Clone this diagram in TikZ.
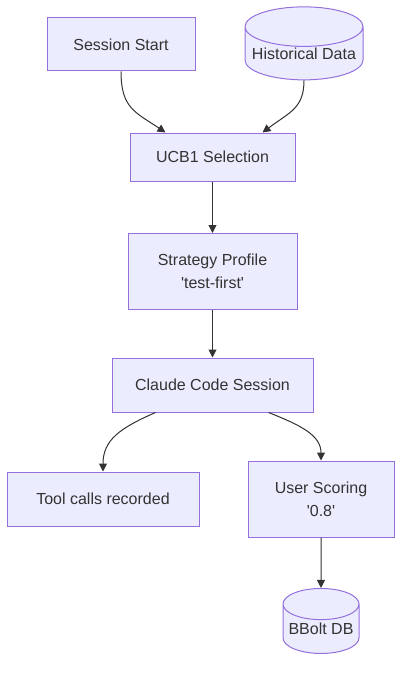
\documentclass[tikz,border=0pt]{standalone}
\usepackage{fontspec}
\setmainfont{Liberation Sans}
\usetikzlibrary{shapes.geometric,arrows.meta}
\definecolor{mmfill}{HTML}{ECECFF}
\definecolor{mmline}{HTML}{9370DB}
\definecolor{mmedge}{HTML}{333333}

\tikzset{
  box/.style={draw=mmline, fill=mmfill, line width=1pt, align=center,
    text=mmedge, inner sep=0pt, font=\fontsize{16}{23}\selectfont},
  store/.style={box, cylinder, shape border rotate=90, shape aspect=#1},
  flow/.style={draw=mmedge, line width=1pt, -{Triangle[length=8pt,width=8pt]}}
}

\begin{document}
\begin{tikzpicture}[x=1pt, y=-1pt]
  \useasboundingbox (0,0) rectangle (410,674);
  % Inputs
  \node[box, minimum width=148pt, minimum height=53pt] (start) at (121,44.5) {Session Start};
  \node[store=0.38, minimum width=118pt, minimum height=73pt] (hist) at (304,53.5) {Historical Data};

  % Selection
  \node[box, minimum width=165pt, minimum height=48pt] (ucb) at (212.5,157) {UCB1 Selection};
  \node[box, minimum width=169pt, minimum height=76pt] (profile) at (212.5,271.5) {Strategy Profile\\\textquotesingle test-first\textquotesingle};
  \node[box, minimum width=201pt, minimum height=54pt] (claude) at (212.5,385) {Claude Code Session};

  % Outputs
  \node[box, minimum width=192pt, minimum height=54pt] (tools) at (103,499) {Tool calls recorded};
  \node[box, minimum width=146pt, minimum height=76pt] (score) at (321,499) {User Scoring\\\textquotesingle 0.8\textquotesingle};
  \node[store=0.48, minimum width=76pt, minimum height=65pt] (db) at (321,629) {BBolt DB};

  % Edges
  \draw[flow] (start.south) .. controls (121,108) and (135,112) .. ([xshift=-47pt]ucb.north);
  \draw[flow] (hist.south) .. controls (304,108) and (290,112) .. ([xshift=50pt]ucb.north);
  \draw[flow] (ucb) -- (profile);
  \draw[flow] (profile) -- (claude);
  \draw[flow] ([xshift=-57pt]claude.south) .. controls (120,428) and (103,440) .. (tools.north);
  \draw[flow] ([xshift=56pt]claude.south) .. controls (300,425) and (321,435) .. (score.north);
  \draw[flow] (score) -- (db);
\end{tikzpicture}
\end{document}
